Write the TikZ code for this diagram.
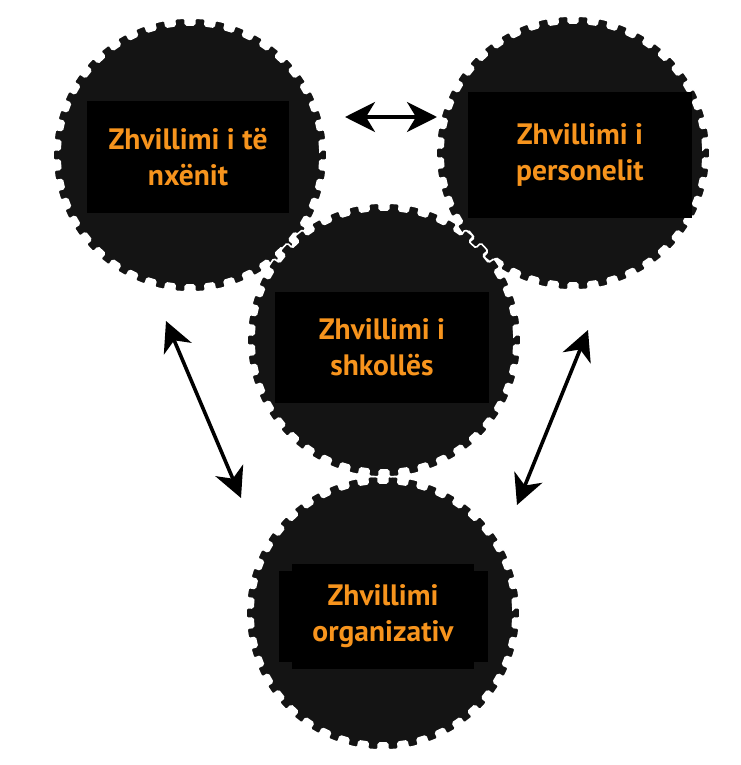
\documentclass[tikz,border=0pt]{standalone}
\usepackage{fontspec}
\newfontfamily\lblfont{PT Sans}
\usetikzlibrary{arrows.meta}
\definecolor{gearblack}{RGB}{20,20,20}
\definecolor{lblorange}{RGB}{247,148,29}
\begin{document}
\begin{tikzpicture}[x=1pt, y=-1pt,
    gear/.style={fill=gearblack, draw=white, line width=1.6pt, rounded corners=1.5pt},
    label/.style={fill=black, text=lblorange, align=center, inner sep=0pt,
      font=\lblfont\bfseries\fontsize{29.5}{36}\selectfont},
    link/.style={{Stealth[length=30pt,width=30pt,inset=9pt]}-{Stealth[length=30pt,width=30pt,inset=9pt]}, line width=3.6pt}]
  \useasboundingbox (0,0) rectangle (740,765);

  % 1. gears (middle one last, so its white rim lies over the others)
  \foreach \cx/\cy in {190/155, 573/153, 383/613, 384/340}{
    \begin{scope}[shift={(\cx,\cy)}]
      \filldraw[gear] (-2:130)
        \foreach \k [evaluate=\k as \a using \k*360/42] in {0,...,41}{
          -- (\a-2.2:130) -- (\a-2.2:137) -- (\a+2.2:137) -- (\a+2.2:130)
        } -- cycle;
    \end{scope}
  }

  % 2. labels on black boxes
  \node[label, minimum width=202, minimum height=111] (learn) at (188,157) {Zhvillimi i të\\nxënit};
  \node[label, minimum width=224, minimum height=125] (staff) at (580,155) {Zhvillimi i\\personelit};
  \node[label, minimum width=214, minimum height=111] (school) at (382,347) {Zhvillimi i\\shkollës};
  \fill[black] (383,616) ++(-91,-52) rectangle ++(182,105);
  \node[label, minimum width=209, minimum height=91] (org) at (383,616) {Zhvillimi\\organizativ};

  % 3. double arrows between the outer gears
  \coordinate (learn-e) at (345,117);
  \coordinate (staff-w) at (437,117);
  \coordinate (learn-s) at (166,321);
  \coordinate (org-nw) at (241,498);
  \coordinate (staff-s) at (588,330);
  \coordinate (org-ne) at (517,505);
  \draw[link] (learn-e) -- (staff-w);
  \draw[link] (learn-s) -- (org-nw);
  \draw[link] (staff-s) -- (org-ne);
\end{tikzpicture}
\end{document}
